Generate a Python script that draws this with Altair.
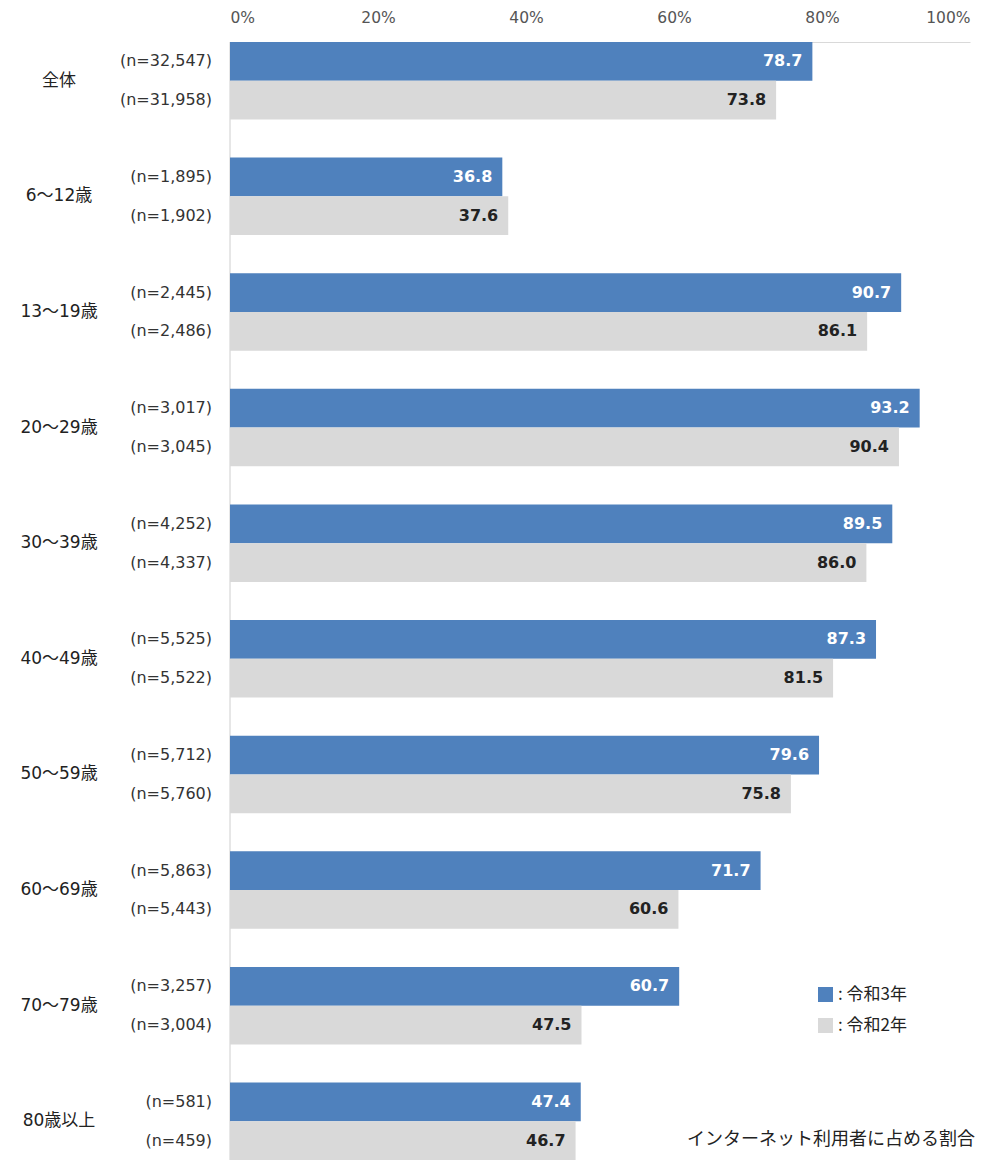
import altair as alt
import pandas as pd

groups = ["全体", "6～12歳", "13～19歳", "20～29歳", "30～39歳", "40～49歳",
          "50～59歳", "60～69歳", "70～79歳", "80歳以上"]
series = ["令和3年", "令和2年"]
r3 = [78.7, 36.8, 90.7, 93.2, 89.5, 87.3, 79.6, 71.7, 60.7, 47.4]
r2 = [73.8, 37.6, 86.1, 90.4, 86.0, 81.5, 75.8, 60.6, 47.5, 46.7]
n3 = ["32,547", "1,895", "2,445", "3,017", "4,252", "5,525", "5,712", "5,863", "3,257", "581"]
n2 = ["31,958", "1,902", "2,486", "3,045", "4,337", "5,522", "5,760", "5,443", "3,004", "459"]
ticks = [0, 20, 40, 60, 80, 100]
footnote = "インターネット利用者に占める割合"

rows = []
for g, a, b, na, nb in zip(groups, r3, r2, n3, n2):
    rows.append({"group": g, "series": series[0], "value": a, "n": f"(n={na})"})
    rows.append({"group": g, "series": series[1], "value": b, "n": f"(n={nb})"})
df = pd.DataFrame(rows)

W, H = 740, 1118
JP = "Noto Sans CJK JP"
LAT = "DejaVu Sans"
MIX = "DejaVu Sans, Noto Sans CJK JP"

yenc = alt.Y("group:N", sort=groups, axis=None,
             scale=alt.Scale(paddingInner=0.33, paddingOuter=0))
yoff = alt.YOffset("series:N", sort=series, scale=alt.Scale(paddingInner=0, paddingOuter=0))
xenc = alt.X("value:Q", scale=alt.Scale(domain=[0, 100], nice=False),
             axis=alt.Axis(orient="top", values=ticks, labelExpr="datum.value + '%'",
                           title=None, ticks=False, grid=False, labelPadding=17,
                           labelFont=LAT, labelFontSize=15.5, labelColor="#555555",
                           domainColor="#d9d9d9", domainWidth=1))

base = alt.Chart(df)

bars = base.mark_bar().encode(
    x=xenc, y=yenc, yOffset=yoff,
    color=alt.Color("series:N", sort=series,
                    scale=alt.Scale(domain=series, range=["#4F81BD", "#D9D9D9"]),
                    legend=alt.Legend(orient="none", legendX=587, legendY=944, title=None,
                                      symbolType="square", symbolSize=225,
                                      symbolStrokeWidth=0, labelFont=JP,
                                      labelFontSize=17, labelColor="#222222",
                                      rowPadding=13, labelOffset=4,
                                      labelExpr="': ' + datum.label")),
)

vals = base.mark_text(align="right", baseline="middle", dx=-10, font=LAT,
                      fontSize=16, fontWeight="bold").encode(
    x="value:Q", y=yenc, yOffset=yoff,
    text=alt.Text("value:Q", format=".1f"),
    color=alt.Color("series:N", sort=series,
                    scale=alt.Scale(domain=series, range=["#ffffff", "#222222"]),
                    legend=None),
)

nlab = base.mark_text(align="right", baseline="middle", font=LAT, fontSize=16,
                      color="#333333").encode(
    x=alt.value(-18), y=yenc, yOffset=yoff, text="n:N",
)

gdf = pd.DataFrame({"group": groups})
glab = alt.Chart(gdf).mark_text(align="center", baseline="middle", font=MIX,
                                fontSize=17, color="#222222").encode(
    x=alt.value(-171), y=yenc, text="group:N",
)

ydom = alt.Chart(gdf).mark_rule(color="#e6e6e6", strokeWidth=1).encode(
    x=alt.value(0), y=alt.value(0), y2=alt.value(H),
)

foot = alt.Chart(pd.DataFrame({"t": [footnote]})).mark_text(
    align="right", baseline="middle", font=JP, fontSize=18, color="#222222").encode(
    x=alt.value(W + 5), y=alt.value(H - 20), text="t:N",
)

chart = alt.layer(ydom, bars, vals, nlab, glab, foot).resolve_scale(color="independent").properties(
    width=W, height=H,
    autosize=alt.AutoSizeParams(type="none"),
    padding={"left": 222, "top": 34, "right": 23, "bottom": 0},
).configure_view(stroke=None)

chart.save("out.html", embed_options={"renderer": "svg", "actions": False})
